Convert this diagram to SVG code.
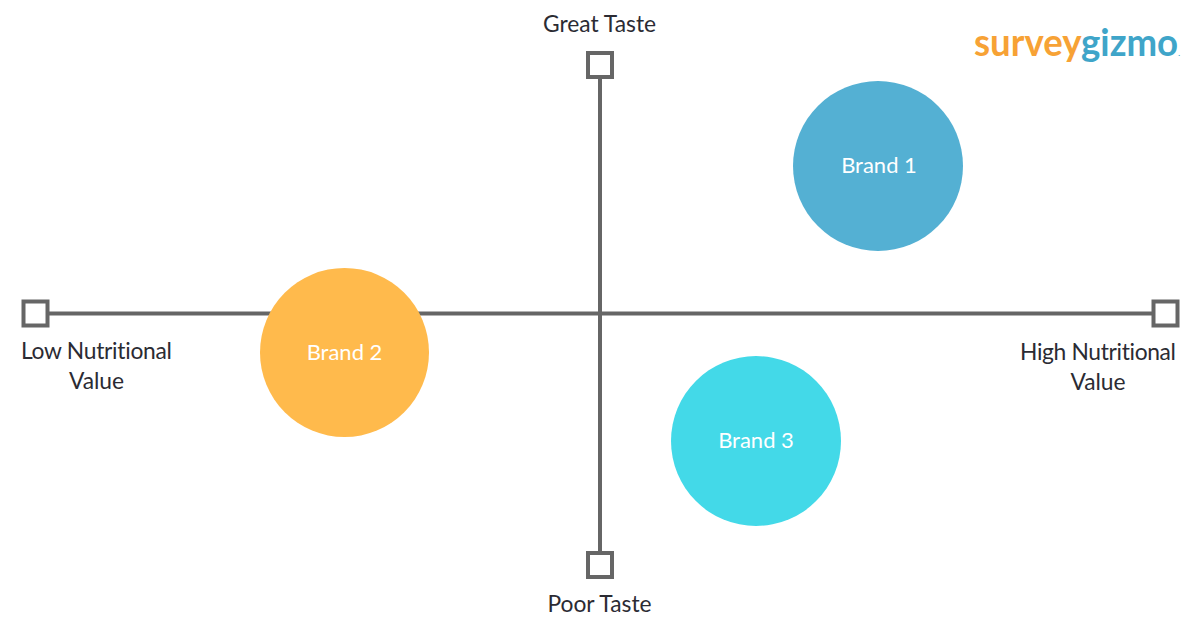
<svg xmlns="http://www.w3.org/2000/svg" width="1200" height="627" viewBox="0 0 1200 627">
<style>
text{font-family:Lato,"Open Sans",sans-serif;font-size:22.800px;text-anchor:middle;font-variant-ligatures:none}
.lab{fill:#2b2b33}
.br{fill:#fff;font-size:22px}
.ax{stroke:#666;stroke-width:4;fill:none}
.box{stroke:#666;stroke-width:4;fill:#fff}
.logo{font-family:Lato,"Open Sans",sans-serif;font-size:38px;font-weight:700;text-anchor:start}
.sm{font-size:8px}
</style>
<rect width="1200" height="627" fill="#fff"/>
<g id="connectors">
<path class="ax" d="M600 78V553"/>
<path class="ax" d="M48 313.500H1153"/>
</g>
<g id="top"><rect class="box" x="588" y="53" width="24" height="24"/><text class="lab" x="599.500" y="31.500">Great Taste</text></g>
<g id="bottom"><rect class="box" x="588" y="553" width="24" height="24"/><text class="lab" x="599.500" y="611.500">Poor Taste</text></g>
<g id="left"><rect class="box" x="23.500" y="301.500" width="24" height="24"/><text class="lab" x="96.500" y="358.500" textLength="151" lengthAdjust="spacing">Low Nutritional</text><text class="lab" x="96.500" y="388.500">Value</text></g>
<g id="right"><rect class="box" x="1153.500" y="301.500" width="24" height="24"/><text class="lab" x="1098" y="359.500" textLength="156" lengthAdjust="spacing">High Nutritional</text><text class="lab" x="1098" y="389.500">Value</text></g>
<g id="brand1"><circle cx="878" cy="166" r="85" fill="#54b0d3"/><text class="br" x="879" y="173">Brand 1</text></g>
<g id="brand2"><circle cx="344.500" cy="352.500" r="84.500" fill="#ffba4c"/><text class="br" x="344.500" y="360">Brand 2</text></g>
<g id="brand3"><circle cx="756" cy="441" r="85" fill="#43d9e8"/><text class="br" x="756" y="448">Brand 3</text></g>
<g id="logo"><text class="logo" x="974" y="56" textLength="206" lengthAdjust="spacingAndGlyphs"><tspan fill="#f7a235">survey</tspan><tspan fill="#3fa5c9">gizmo</tspan><tspan class="sm" fill="#3fa5c9">.</tspan></text></g>
</svg>
